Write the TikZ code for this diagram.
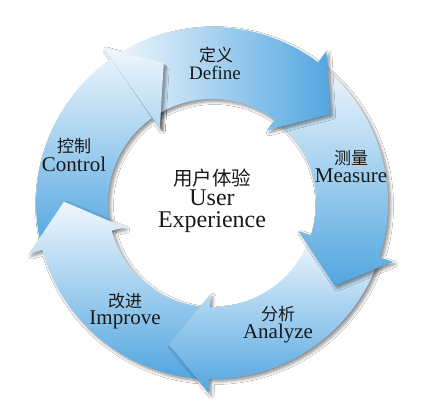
\documentclass[tikz,border=0pt]{standalone}
\usepackage{fontspec}
\setmainfont{Liberation Serif}
\newfontfamily\cjk{Noto Sans CJK SC}
\usetikzlibrary{shadows.blur}
\definecolor{lite}{RGB}{240,247,253}
\definecolor{dark}{RGB}{82,166,224}
\definecolor{ink}{RGB}{25,25,25}
\tikzset{
  arrowshadow/.style={blur shadow={shadow xshift=2.5pt, shadow yshift=-2.5pt, shadow blur radius=3pt, shadow blur steps=6, shadow opacity=45}},
  vshade/.style={top color=lite, bottom color=dark},
  hshade/.style={left color=lite, right color=dark},
  cnlabel/.style={font=\cjk\fontsize{17}{17}\selectfont, text=ink, inner sep=0pt},
  enlabel/.style={font=\fontsize{21}{21}\selectfont, text=ink, inner sep=0pt, anchor=base},
}
% #1 base angle of the head, #2 tail angle
\newcommand\cyclearrow[2]{(#2:176pt) arc[start angle=#2, end angle=#1, radius=176pt] -- (#1:190pt) -- ({#1-16}:148pt) -- (#1:91pt) -- (#1:104pt) arc[start angle=#1, end angle=#2, radius=104pt] -- cycle}
\begin{document}
\begin{tikzpicture}[x=1pt,y=1pt]
\fill[white] (0,0) rectangle (438,417);
\useasboundingbox (0,0) rectangle (438,417);
\begin{scope}[shift={(212,214)}]
  % Control
  \shade[vshade, arrowshadow] \cyclearrow{125}{194.5};
  % Improve
  \shade[vshade, arrowshadow] \cyclearrow{195.5}{268};
  % Analyze
  \shade[vshade, arrowshadow] \cyclearrow{-91}{-19};
  % Measure
  \shade[vshade, arrowshadow] \cyclearrow{-18}{52};
  % Define
  \shade[hshade, arrowshadow] \cyclearrow{53}{124};
  % Control head over the tail of Define
  \begin{scope}
    \clip (125:190pt) -- (109:148pt) -- ([shift={(7pt,-7pt)}]109:148pt) -- ([shift={(7pt,-7pt)}]125:91pt) -- (125:91pt) -- cycle;
    \shade[vshade, arrowshadow] \cyclearrow{125}{194.5};
  \end{scope}
\end{scope}
% labels
\node[cnlabel] (dcn) at (216,362) {定义};
\node[enlabel, font=\fontsize{19}{19}\selectfont] (den) at (215,337) {Define};
\node[cnlabel] (mcn) at (351,259) {测量};
\node[enlabel] (men) at (351,234) {Measure};
\node[cnlabel] (acn) at (278,103) {分析};
\node[enlabel] (aen) at (278,78) {Analyze};
\node[cnlabel] (icn) at (125,116) {改进};
\node[enlabel] (ien) at (125,92) {Improve};
\node[cnlabel] (ccn) at (74,271) {控制};
\node[enlabel] (cen) at (74,245) {Control};
\node[cnlabel, font=\cjk\fontsize{19.5}{19.5}\selectfont] (ucn) at (212,239) {用户体验};
\node[enlabel, font=\fontsize{24}{24}\selectfont] (uen) at (212,211) {User};
\node[enlabel, font=\fontsize{24}{24}\selectfont] (xen) at (212,189) {Experience};
\end{tikzpicture}
\end{document}
